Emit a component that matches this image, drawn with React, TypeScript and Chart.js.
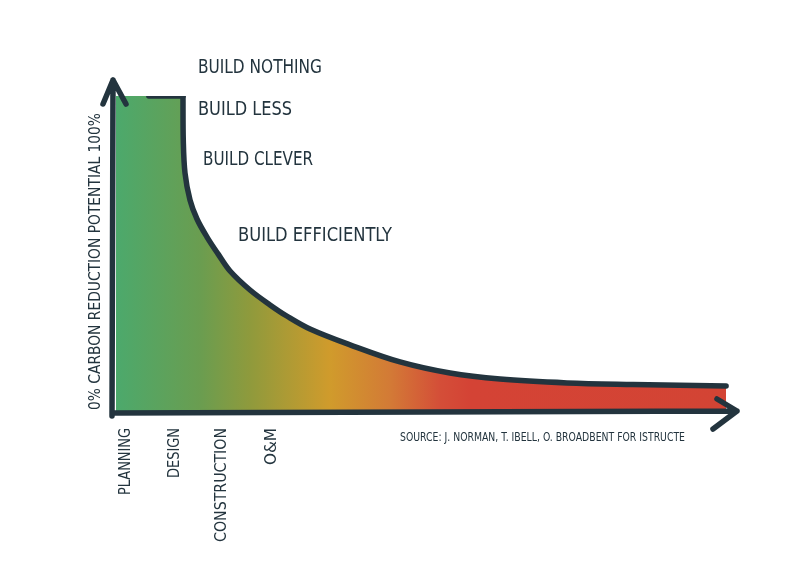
import { useEffect, useRef } from "react";
import { Chart, registerables } from "chart.js";

Chart.register(...registerables);

// ---- data ----
const stageLabels = ["PLANNING", "DESIGN", "CONSTRUCTION", "O&M"];
const stagePositions = [0.1, 1.1, 2.06, 3.08];
const curveX = [0, 0.67, 1.367, 1.373, 1.408, 1.51, 1.653, 1.857, 2.082, 2.327, 2.735, 3.143, 3.484, 3.959, 4.776, 5.796, 6.816, 7.837, 9.204, 10.551, 12.45];
const curveY = [100, 100, 100, 86.1, 75.7, 67.2, 61.2, 55.5, 50.2, 44.8, 38.8, 34.1, 30.6, 26.5, 21.5, 16.1, 12.6, 10.7, 9.5, 9.0, 8.5];
const strokeStartX = 0.67;
const plateauEndX = 1.367;
const annotationTexts = ["BUILD NOTHING", "BUILD LESS", "BUILD CLEVER", "BUILD EFFICIENTLY"];
const yAxisTitle = "0% CARBON REDUCTION POTENTIAL 100%";
const sourceText = "SOURCE: J. NORMAN, T. IBELL, O. BROADBENT FOR ISTRUCTE";

// ---- layout / style ----
const INK = "#23343e";
const FONT = '"DejaVu Sans Condensed", "Liberation Sans Narrow", "DejaVu Sans", sans-serif';
const annotationLayout = [
  { x: 198, y: 68, w: 124, size: 20 },
  { x: 198, y: 110, w: 94, size: 20 },
  { x: 203, y: 160, w: 110, size: 20 },
  { x: 238, y: 236, w: 154, size: 20 },
];
const stageLayout = { top: 428, size: 16, widths: [67, 50, 114, 37] };
const yTitleLayout = { x: 96, bottom: 410, w: 297, size: 16 };
const sourceLayout = { x: 400, y: 438, w: 285, size: 12 };
const CURVE_TENSION = 0.35;

function fitText(ctx: CanvasRenderingContext2D, text: string, w: number, size: number) {
  ctx.font = `${size}px ${FONT}`;
  const m = ctx.measureText(text).width;
  ctx.scale(w / m, 1);
  ctx.fillText(text, 0, 0);
}

const gradientFill = (c: any) => {
  const { chart } = c;
  const area = chart.chartArea;
  if (!area) return "#4ca96c";
  const g = chart.ctx.createLinearGradient(area.left, 0, area.right, 0);
  g.addColorStop(0, "#4ca96c");
  g.addColorStop(0.137, "#6a9d50");
  g.addColorStop(0.218, "#8f9a3c");
  g.addColorStop(0.348, "#d09b2c");
  g.addColorStop(0.446, "#d37a36");
  g.addColorStop(0.527, "#d44e38");
  g.addColorStop(0.576, "#d44335");
  g.addColorStop(1, "#d34434");
  return g;
};

const axesPlugin = {
  id: "sketchAxes",
  afterDatasetsDraw(chart: any) {
    const { ctx } = chart;
    const xs = chart.scales.x;
    const ys = chart.scales.y;
    const x0 = xs.getPixelForValue(0) - 3;
    const y0 = ys.getPixelForValue(0);
    const yTop = ys.getPixelForValue(100) - 16;
    const xEnd = xs.getPixelForValue(xs.max) + 6;
    ctx.save();
    ctx.strokeStyle = INK;
    ctx.lineWidth = 5.5;
    ctx.lineCap = "round";
    ctx.lineJoin = "round";
    ctx.beginPath();
    ctx.moveTo(x0 - 1, y0 + 3);
    ctx.lineTo(x0, yTop);
    ctx.moveTo(x0 - 10, yTop + 24);
    ctx.lineTo(x0, yTop);
    ctx.lineTo(x0 + 13, yTop + 24);
    ctx.moveTo(x0, y0);
    ctx.lineTo(xEnd, y0 - 2);
    ctx.moveTo(xEnd - 20, y0 - 14);
    ctx.lineTo(xEnd, y0 - 2);
    ctx.lineTo(xEnd - 24, y0 + 16);
    ctx.stroke();
    ctx.restore();
  },
  afterDraw(chart: any) {
    const { ctx } = chart;
    const xs = chart.scales.x;
    ctx.save();
    ctx.fillStyle = INK;
    annotationTexts.forEach((t, i) => {
      const l = annotationLayout[i];
      ctx.save();
      ctx.textAlign = "left";
      ctx.textBaseline = "middle";
      ctx.translate(l.x, l.y);
      fitText(ctx, t, l.w, l.size);
      ctx.restore();
    });
    stageLabels.forEach((t, i) => {
      const cx = xs.getPixelForValue(stagePositions[i]) + 5;
      ctx.save();
      ctx.translate(cx, stageLayout.top);
      ctx.rotate(-Math.PI / 2);
      ctx.textAlign = "right";
      ctx.textBaseline = "middle";
      fitText(ctx, t, stageLayout.widths[i], stageLayout.size);
      ctx.restore();
    });
    ctx.save();
    ctx.translate(yTitleLayout.x, yTitleLayout.bottom);
    ctx.rotate(-Math.PI / 2);
    ctx.textAlign = "left";
    ctx.textBaseline = "middle";
    fitText(ctx, yAxisTitle, yTitleLayout.w, yTitleLayout.size);
    ctx.restore();
    ctx.save();
    ctx.translate(sourceLayout.x, sourceLayout.y);
    ctx.textAlign = "left";
    ctx.textBaseline = "middle";
    fitText(ctx, sourceText, sourceLayout.w, sourceLayout.size);
    ctx.restore();
    ctx.restore();
  },
};

export default function App() {
  const ref = useRef<HTMLCanvasElement | null>(null);
  useEffect(() => {
    if (!ref.current) return;
    const points = curveX.map((x, i) => ({ x, y: curveY[i] }));
    const plateau = points.filter((p) => p.x <= plateauEndX);
    const plateauFill = [...plateau.slice(0, -1), { x: plateauEndX + 0.012, y: 100 }];
    const plateauStroke = plateau.filter((p) => p.x >= strokeStartX);
    const decline = points.filter((p) => p.x >= plateauEndX);
    const common = { pointRadius: 0, order: 1 };
    const chart = new Chart(ref.current, {
      type: "line",
      data: {
        datasets: [
          { ...common, data: plateauStroke, borderColor: INK, borderWidth: 5.5, borderCapStyle: "round", tension: 0, fill: false, order: 0 },
          { ...common, data: decline, borderColor: INK, borderWidth: 5.5, borderCapStyle: "round", tension: CURVE_TENSION, fill: false, order: 0 },
          { ...common, data: plateauFill, borderWidth: 0, tension: 0, fill: "origin", backgroundColor: gradientFill },
          { ...common, data: decline, borderWidth: 0, tension: CURVE_TENSION, fill: "origin", backgroundColor: gradientFill },
        ],
      } as any,
      options: {
        animation: false,
        responsive: false,
        layout: { padding: { left: 116, top: 96, right: 69, bottom: 152 } },
        scales: {
          x: { type: "linear", min: 0, max: 12.55, display: false },
          y: { min: 0, max: 100, display: false },
        },
        plugins: { legend: { display: false }, tooltip: { enabled: false } },
      } as any,
      plugins: [axesPlugin],
    });
    return () => chart.destroy();
  }, []);
  return (
    <div style={{ position: "absolute", left: 0, top: 0, width: 800, height: 565, background: "#fff" }}>
      <canvas ref={ref} width={800} height={565} />
    </div>
  );
}
